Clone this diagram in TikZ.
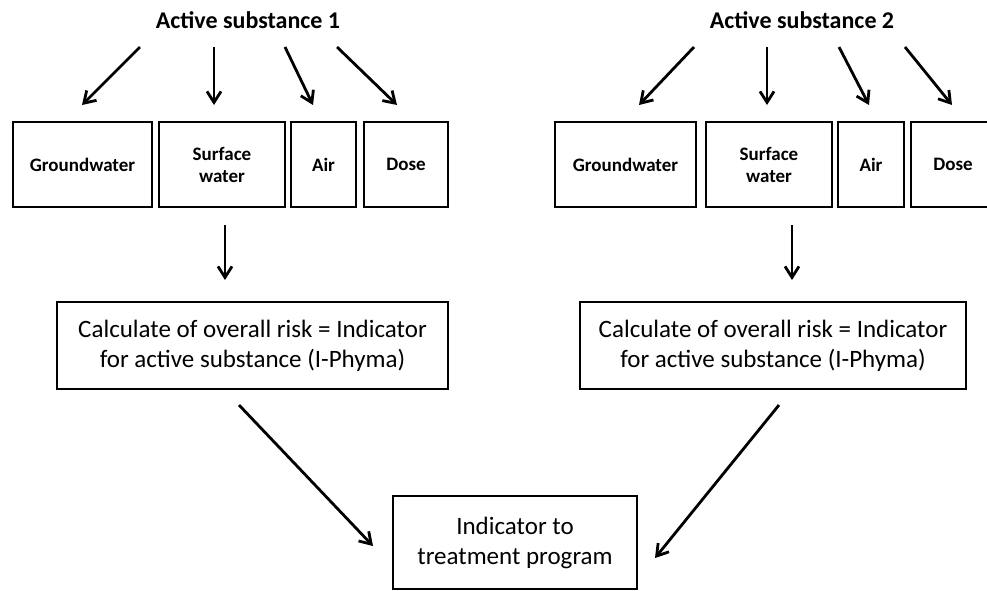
\documentclass[tikz,border=0pt]{standalone}
\usepackage{fontspec}
\setmainfont{Carlito}
\usetikzlibrary{arrows.meta}
\begin{document}
\begin{tikzpicture}[x=1pt,y=-1pt,
  box/.style={draw, line width=2.6pt, inner sep=0pt, align=center,
    font=\bfseries\fontsize{19}{22}\selectfont, minimum height=85pt},
  bigbox/.style={draw, line width=2.6pt, inner sep=0pt, align=center,
    font=\fontsize{25}{30}\selectfont},
  title/.style={font=\bfseries\fontsize{24}{28}\selectfont, inner sep=0pt},
  arr/.style={line width=2.8pt, -{Straight Barb[length=11pt,width=14pt]}},
]
\useasboundingbox (0,0) rectangle (987,590);
\clip (0,0) rectangle (987,590);

% titles
\node[title] (t1) at (248,20) {Active substance 1};
\node[title] (t2) at (802,20) {Active substance 2};

% left boxes
\node[box, minimum width=139pt] (gw1)   at (82.5,164.5) {Groundwater};
\node[box, minimum width=126pt] (sw1)   at (222,164.5)  {Surface\\water};
\node[box, minimum width=65pt]  (air1)  at (323.5,164.5){Air};
\node[box, minimum width=84pt]  (dose1) at (406,164.5)  {Dose};

% right boxes
\node[box, minimum width=141pt] (gw2)   at (625.5,164.5){Groundwater};
\node[box, minimum width=126pt] (sw2)   at (769,164.5)  {Surface\\water};
\node[box, minimum width=66pt]  (air2)  at (871,164.5)  {Air};
\node[box, minimum width=84pt]  (dose2) at (953,164.5)  {Dose};

% calculation boxes
\node[bigbox, minimum width=391pt, minimum height=87pt] (calc1) at (252.5,345.5)
  {Calculate of overall risk = Indicator\\for active substance (I-Phyma)};
\node[bigbox, minimum width=386pt, minimum height=87pt] (calc2) at (773,345.5)
  {Calculate of overall risk = Indicator\\for active substance (I-Phyma)};

% final box
\node[bigbox, minimum width=244pt, minimum height=93pt] (fin) at (515,542.5)
  {Indicator to\\treatment program};

% arrow coordinates
\coordinate (a1s) at (140,47);  \coordinate (a1e) at (82,105);
\coordinate (a2s) at (214,47);  \coordinate (a2e) at (214,105);
\coordinate (a3s) at (285,47);  \coordinate (a3e) at (313,105);
\coordinate (a4s) at (337,47);  \coordinate (a4e) at (397,105);
\coordinate (b1s) at (694,47);  \coordinate (b1e) at (639,105);
\coordinate (b2s) at (767,47);  \coordinate (b2e) at (767,105);
\coordinate (b3s) at (839,47);  \coordinate (b3e) at (869,105);
\coordinate (b4s) at (905,47);  \coordinate (b4e) at (952,105);
\coordinate (d1s) at (225,225); \coordinate (d1e) at (225,280);
\coordinate (d2s) at (792,225); \coordinate (d2e) at (792,280);
\coordinate (f1s) at (239,405); \coordinate (f1e) at (373,546);
\coordinate (f2s) at (779,405); \coordinate (f2e) at (655,558);

\draw[arr] (a1s) -- (a1e);
\draw[arr] (a2s) -- (a2e);
\draw[arr] (a3s) -- (a3e);
\draw[arr] (a4s) -- (a4e);
\draw[arr] (b1s) -- (b1e);
\draw[arr] (b2s) -- (b2e);
\draw[arr] (b3s) -- (b3e);
\draw[arr] (b4s) -- (b4e);
\draw[arr] (d1s) -- (d1e);
\draw[arr] (d2s) -- (d2e);
\draw[arr] (f1s) -- (f1e);
\draw[arr] (f2s) -- (f2e);
\end{tikzpicture}
\end{document}
